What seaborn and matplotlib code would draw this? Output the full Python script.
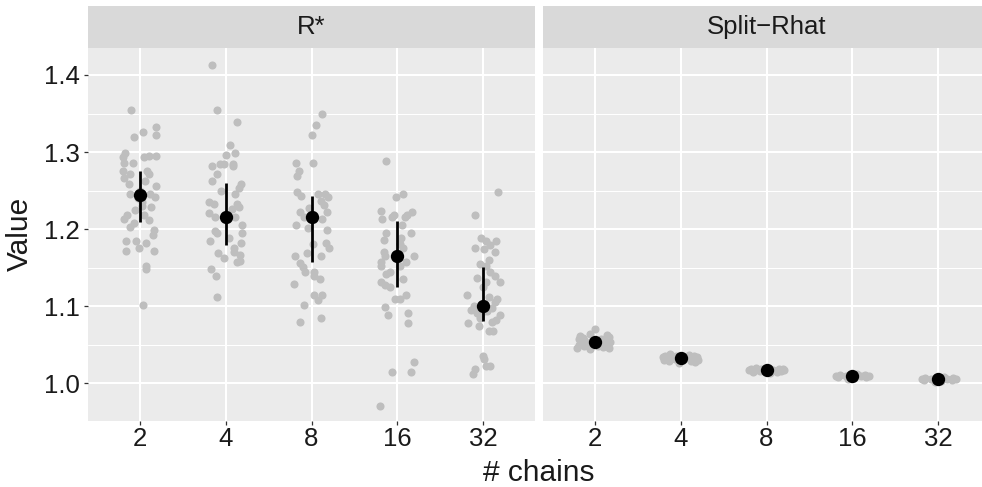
import numpy as np
import pandas as pd
import matplotlib
matplotlib.use("Agg")
import matplotlib.pyplot as plt
import seaborn as sns

# ---------------- data ----------------
chains = ["2", "4", "8", "16", "32"]
metrics = ["R*", "Split\u2212Rhat"]

# R* draws (value) and horizontal jitter (category units) for each chain count
rstar_2 = [1.355, 1.326, 1.319, 1.332, 1.322, 1.299, 1.293, 1.286, 1.286, 1.293, 1.295, 1.295,
           1.276, 1.272, 1.267, 1.276, 1.272, 1.258, 1.256, 1.245, 1.245, 1.242, 1.230, 1.229,
           1.219, 1.213, 1.208, 1.203, 1.219, 1.212, 1.199, 1.192, 1.185, 1.185, 1.182, 1.175,
           1.172, 1.172, 1.152, 1.148, 1.102, 1.250, 1.240, 1.235, 1.262, 1.225]
rstar_2_jit = [-0.10, 0.035, -0.07, 0.195, 0.195, -0.167, -0.195, -0.18, -0.078, 0.047, 0.105, 0.19,
               -0.195, -0.117, -0.18, 0.086, 0.113, -0.128, 0.195, -0.117, 0.125, 0.183, 0.027, 0.132,
               -0.148, -0.187, -0.07, -0.109, 0.047, 0.113, 0.163, 0.156, -0.16, -0.039, 0.074, -0.008,
               -0.16, 0.163, 0.078, 0.07, 0.035, 0.0, -0.02, 0.03, 0.06, -0.05]

rstar_4 = [1.413, 1.355, 1.339, 1.309, 1.299, 1.296, 1.282, 1.285, 1.285, 1.285, 1.282, 1.272,
           1.262, 1.259, 1.253, 1.249, 1.245, 1.235, 1.232, 1.232, 1.229, 1.226, 1.221, 1.216,
           1.216, 1.205, 1.198, 1.195, 1.195, 1.189, 1.185, 1.182, 1.176, 1.171, 1.166, 1.169,
           1.162, 1.158, 1.159, 1.148, 1.139, 1.112]
rstar_4_jit = [-0.163, -0.105, 0.128, 0.047, 0.113, 0.008, -0.163, -0.062, -0.023, 0.082, 0.082, -0.105,
               -0.163, 0.183, 0.152, -0.05, 0.113, -0.187, -0.14, 0.132, 0.152, 0.074, -0.187, -0.128,
               0.113, 0.19, -0.117, -0.10, 0.19, 0.043, -0.175, 0.183, 0.101, 0.093, 0.171, -0.09,
               -0.023, 0.132, 0.171, -0.171, -0.113, -0.105]

rstar_8 = [1.349, 1.335, 1.322, 1.286, 1.286, 1.275, 1.269, 1.248, 1.243, 1.245, 1.245, 1.242,
           1.236, 1.231, 1.228, 1.222, 1.222, 1.216, 1.213, 1.205, 1.202, 1.199, 1.181, 1.182,
           1.176, 1.169, 1.165, 1.165, 1.156, 1.151, 1.145, 1.145, 1.139, 1.135, 1.129, 1.115,
           1.115, 1.108, 1.102, 1.085, 1.079]
rstar_8_jit = [0.117, 0.058, 0.0, -0.175, 0.016, -0.148, -0.167, -0.167, -0.12, 0.074, 0.152, 0.191,
               0.105, 0.144, -0.031, -0.136, 0.183, -0.09, 0.117, -0.175, -0.043, 0.183, 0.019, 0.163,
               0.198, -0.05, -0.19, 0.105, -0.128, -0.097, -0.078, 0.027, 0.027, 0.097, -0.198, 0.027,
               0.125, 0.074, -0.09, 0.109, -0.132]

rstar_16 = [1.289, 1.242, 1.245, 1.224, 1.213, 1.216, 1.218, 1.216, 1.219, 1.222, 1.206, 1.195,
            1.186, 1.195, 1.189, 1.181, 1.175, 1.171, 1.165, 1.165, 1.158, 1.152, 1.158, 1.152,
            1.142, 1.145, 1.135, 1.132, 1.128, 1.125, 1.115, 1.109, 1.109, 1.099, 1.088, 1.091,
            1.078, 1.028, 1.015, 1.015, 0.971]
rstar_16_jit = [-0.132, -0.016, 0.07, -0.195, -0.179, -0.062, -0.043, 0.086, 0.113, 0.171, 0.047, -0.132,
                -0.152, 0.16, 0.043, 0.035, 0.066, -0.16, -0.148, 0.198, -0.195, -0.195, 0.101, 0.027,
                -0.132, -0.089, 0.062, -0.195, -0.14, -0.089, 0.097, -0.023, 0.035, -0.14, -0.109, 0.12,
                0.12, 0.195, -0.062, 0.152, -0.198]

rstar_32 = [1.248, 1.219, 1.189, 1.184, 1.179, 1.174, 1.170, 1.155, 1.152, 1.145, 1.139, 1.132,
            1.136, 1.132, 1.115, 1.112, 1.109, 1.100, 1.098, 1.091, 1.094, 1.088, 1.085, 1.078,
            1.082, 1.075, 1.068, 1.068, 1.035, 1.031, 1.022, 1.022, 1.019, 1.012, 1.175, 1.160,
            1.125, 1.105, 1.095, 1.080, 1.185, 1.090]
rstar_32_jit = [0.171, -0.093, -0.027, 0.027, 0.078, 0.008, 0.132, -0.039, 0.027, 0.078, 0.132, 0.191,
                -0.07, 0.027, -0.187, 0.07, 0.163, -0.109, 0.097, -0.078, 0.047, 0.191, -0.039, -0.175,
                0.144, -0.05, 0.066, 0.117, -0.004, 0.008, 0.035, 0.078, -0.101, -0.117, -0.10, 0.06,
                0.0, 0.14, -0.14, 0.10, 0.15, -0.03]

# Split-Rhat draws
rhat_2 = [1.071, 1.064, 1.062, 1.063, 1.060, 1.058, 1.057, 1.056, 1.055, 1.054, 1.053, 1.052,
          1.051, 1.050, 1.049, 1.048, 1.047, 1.046, 1.046, 1.045, 1.059, 1.052, 1.048, 1.056]
rhat_2_jit = [0.01, -0.05, -0.17, 0.15, 0.17, -0.18, 0.08, -0.12, 0.12, -0.16, 0.18, -0.08,
              0.05, -0.18, 0.15, -0.12, 0.10, -0.20, 0.17, -0.05, -0.13, 0.13, 0.04, -0.02]
rhat_4 = [1.038, 1.037, 1.036, 1.036, 1.035, 1.034, 1.034, 1.033, 1.033, 1.032, 1.032, 1.031,
          1.031, 1.030, 1.030, 1.029, 1.028, 1.027, 1.035, 1.029]
rhat_4_jit = [-0.12, 0.10, -0.18, 0.16, -0.05, 0.19, -0.20, 0.05, -0.10, 0.14, -0.16, 0.18,
              -0.07, 0.20, -0.19, 0.12, 0.17, -0.02, 0.02, -0.14]
rhat_8 = [1.020, 1.019, 1.019, 1.018, 1.018, 1.017, 1.017, 1.016, 1.016, 1.015, 1.015, 1.014,
          1.017, 1.016]
rhat_8_jit = [-0.12, 0.14, -0.18, 0.19, -0.06, 0.08, -0.20, 0.17, -0.14, 0.12, -0.16, 0.04,
              0.20, -0.08]
rhat_16 = [1.012, 1.011, 1.011, 1.010, 1.010, 1.009, 1.009, 1.008, 1.008, 1.007, 1.006, 1.010]
rhat_16_jit = [0.05, -0.15, 0.15, -0.19, 0.19, -0.08, 0.10, -0.17, 0.16, 0.02, -0.05, 0.0]
rhat_32 = [1.008, 1.007, 1.007, 1.006, 1.006, 1.005, 1.005, 1.004, 1.004, 1.003, 1.002, 1.005]
rhat_32_jit = [0.06, -0.16, 0.17, -0.19, 0.20, -0.09, 0.10, -0.17, 0.16, 0.03, -0.04, 0.0]

# summaries: centre point and interval
rstar_mid = [1.244, 1.216, 1.216, 1.165, 1.100]
rstar_lo = [1.209, 1.179, 1.157, 1.125, 1.081]
rstar_hi = [1.275, 1.260, 1.243, 1.210, 1.151]
rhat_mid = [1.054, 1.033, 1.017, 1.0095, 1.005]
rhat_lo = [1.051, 1.031, 1.016, 1.009, 1.0045]
rhat_hi = [1.057, 1.035, 1.018, 1.010, 1.0055]

y_ticks = [1.0, 1.1, 1.2, 1.3, 1.4]
y_minor = [1.05, 1.15, 1.25, 1.35]

# ---------------- tidy frames ----------------
rows = []
for metric, groups in [(metrics[0], [(rstar_2, rstar_2_jit), (rstar_4, rstar_4_jit), (rstar_8, rstar_8_jit),
                                      (rstar_16, rstar_16_jit), (rstar_32, rstar_32_jit)]),
                       (metrics[1], [(rhat_2, rhat_2_jit), (rhat_4, rhat_4_jit), (rhat_8, rhat_8_jit),
                                      (rhat_16, rhat_16_jit), (rhat_32, rhat_32_jit)])]:
    for i, (vals, jit) in enumerate(groups):
        for v, j in zip(vals, jit):
            rows.append(dict(metric=metric, chains=chains[i], pos=i + j, value=v))
draws = pd.DataFrame(rows)

summ = pd.concat([
    pd.DataFrame(dict(metric=metrics[0], chains=chains, pos=range(5), mid=rstar_mid, lo=rstar_lo, hi=rstar_hi)),
    pd.DataFrame(dict(metric=metrics[1], chains=chains, pos=range(5), mid=rhat_mid, lo=rhat_lo, hi=rhat_hi)),
])

# ---------------- figure ----------------
sns.set_theme(style="white")
plt.rcParams["font.family"] = ["Liberation Sans", "DejaVu Sans"]

W, H = 982, 487
fig = plt.figure(figsize=(W / 100, H / 100), dpi=100)

panel_top, panel_bot = 48, 420.7
strip_top = 6
panels_x = [(88, 535), (543, 990)]

text_col = "#1A1A1A"
tick_fs = 18.5
title_fs = 21.5
for k, (x0, x1) in enumerate(panels_x):
    ax = fig.add_axes([x0 / W, 1 - panel_bot / H, (x1 - x0) / W, (panel_bot - panel_top) / H])
    sax = fig.add_axes([x0 / W, 1 - panel_top / H, (x1 - x0) / W, (panel_top - strip_top) / H])
    sax.set_facecolor("#D9D9D9")
    sax.set_xticks([]); sax.set_yticks([])
    for s in sax.spines.values():
        s.set_visible(False)
    sax.text(0.5, 0.5, metrics[k], ha="center", va="center", fontsize=tick_fs, color=text_col,
             transform=sax.transAxes)

    ax.set_facecolor("#EBEBEB")
    for s in ax.spines.values():
        s.set_visible(False)
    d = draws[draws.metric == metrics[k]]
    sm = summ[summ.metric == metrics[k]]

    sns.scatterplot(data=d, x="pos", y="value", color="#BEBEBE", s=34, linewidth=0, ax=ax, zorder=3)
    ax.vlines(sm["pos"], sm["lo"], sm["hi"], color="black", lw=2.0, zorder=4)
    sns.scatterplot(data=sm, x="pos", y="mid", color="black", s=92, linewidth=0, ax=ax, zorder=5)

    ax.set_xlim(-0.6, 4.6)
    ax.set_ylim(0.9515, 1.435)
    ax.set_xticks(range(5))
    ax.set_xticklabels(chains)
    ax.set_yticks(y_ticks)
    ax.set_yticks(y_minor, minor=True)
    ax.grid(True, which="major", color="white", lw=1.5, zorder=0)
    ax.grid(True, which="minor", axis="y", color="white", lw=0.75, zorder=0)
    ax.set_axisbelow(True)
    ax.tick_params(axis="both", which="major", length=2.7, width=0.9, color="#333333",
                   labelsize=tick_fs, labelcolor=text_col, bottom=True, left=(k == 0))
    ax.tick_params(axis="x", which="major", pad=1.8)
    ax.tick_params(axis="y", which="major", pad=3.0)
    ax.tick_params(axis="both", which="minor", length=0)
    ax.set_xlabel("")
    ax.set_ylabel("")
    if k == 0:
        ax.set_yticklabels([f"{t:.1f}" for t in y_ticks])
    else:
        ax.set_yticklabels([])

fig.text((88 + 990) / 2 / W, 1 - 481 / H, "# chains", ha="center", va="baseline",
         fontsize=title_fs, color=text_col)
fig.text(20 / W, 1 - ((panel_top + panel_bot) / 2) / H, "Value", ha="center", va="center",
         rotation=90, fontsize=title_fs, color=text_col)

fig.savefig("out.png", dpi=100)
